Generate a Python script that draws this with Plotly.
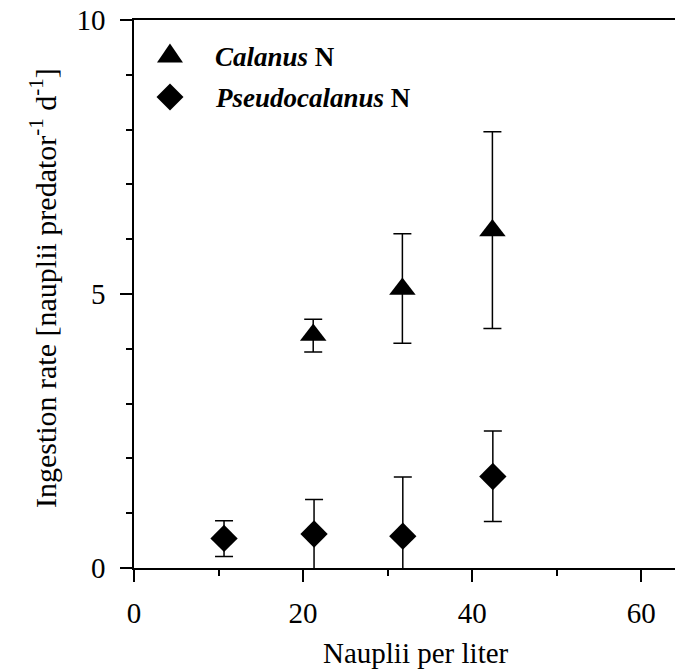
import plotly.graph_objects as go

# ---- data ----
calanus_x = [21.2, 31.75, 42.4]
calanus_y = [4.25, 5.09, 6.16]
calanus_hi = [4.54, 6.10, 7.96]
calanus_lo = [3.94, 4.10, 4.37]

pseudo_x = [10.65, 21.3, 31.8, 42.45]
pseudo_y = [0.54, 0.62, 0.58, 1.67]
pseudo_hi = [0.86, 1.25, 1.66, 2.50]
pseudo_lo = [0.21, -0.4, -0.4, 0.85]

x_ticks = [0, 20, 40, 60]
y_ticks = [0, 5, 10]
legend_labels = ["<b><i>Calanus</i> N</b>", "<b><i>Pseudocalanus</i> N</b>"]
x_title = "Nauplii per liter"
y_title = "Ingestion rate [nauplii predator<sup>-1</sup> d<sup>-1</sup>]"

FONT = "Liberation Serif"

def err(vals, hi, lo):
    plus = [h - v for v, h in zip(vals, hi)]
    minus = [v - l for v, l in zip(vals, lo)]
    return dict(type="data", symmetric=False, array=plus, arrayminus=minus,
                color="black", thickness=1.5, width=9)

fig = go.Figure()
fig.add_trace(go.Scatter(
    x=calanus_x, y=calanus_y, mode="markers", name="Calanus N",
    marker=dict(symbol="triangle-up", size=23, color="black"),
    error_y=err(calanus_y, calanus_hi, calanus_lo), showlegend=False))
fig.add_trace(go.Scatter(
    x=pseudo_x, y=pseudo_y, mode="markers", name="Pseudocalanus N",
    marker=dict(symbol="diamond", size=21, color="black"),
    error_y=err(pseudo_y, pseudo_hi, pseudo_lo), showlegend=False))

# legend drawn as shapes + annotations
leg_y = [0.9398, 0.8595]
leg_text_y = [0.9325, 0.8577]
paths = ["M -13,-9.5 L 13,-9.5 L 0,9.5 Z",
         "M -13.5,0 L 0,13.5 L 13.5,0 L 0,-13.5 Z"]
for i, lab in enumerate(legend_labels):
    fig.add_shape(type="path", xref="paper", yref="paper",
                  xsizemode="pixel", ysizemode="pixel",
                  xanchor=0.0665, yanchor=leg_y[i], path=paths[i],
                  fillcolor="black", line=dict(width=0))
    fig.add_annotation(x=0.146, y=leg_text_y[i], xref="paper", yref="paper",
                       xanchor="left", yanchor="middle", text=lab, showarrow=False,
                       font=dict(family=FONT, size=27, color="black"))

# axis titles
fig.add_annotation(x=0.5213, y=-0.156, xref="paper", yref="paper",
                   xanchor="center", yanchor="middle", text=x_title, showarrow=False,
                   font=dict(family=FONT, size=29, color="black"))
fig.add_annotation(x=-0.168, y=0.511, xref="paper", yref="paper",
                   xanchor="center", yanchor="middle", text=y_title, showarrow=False,
                   textangle=-90, font=dict(family=FONT, size=30, color="black"))

axis_common = dict(showline=True, linecolor="black", linewidth=1.5,
                   ticks="outside", ticklen=12, tickwidth=1.5, tickcolor="black",
                   showgrid=False, zeroline=False,
                   tickfont=dict(family=FONT, size=29, color="black"))

fig.update_layout(
    width=675, height=672,
    margin=dict(l=134, r=0, t=20, b=104),
    plot_bgcolor="white", paper_bgcolor="white",
    xaxis=dict(range=[0, 64], tickvals=x_ticks, mirror=True,
               minor=dict(ticks="outside", ticklen=6, tickwidth=1.5, tickcolor="black", dtick=10, tick0=0),
               ticklabelstandoff=6, **axis_common),
    yaxis=dict(range=[0, 10], tickvals=y_ticks,
               minor=dict(ticks="outside", ticklen=6, tickwidth=1.5, tickcolor="black", dtick=1, tick0=0),
               ticklabelstandoff=9, **axis_common),
)

fig.write_html("out.html", config={"displayModeBar": False},
               post_script="document.body.style.margin='0px';")
